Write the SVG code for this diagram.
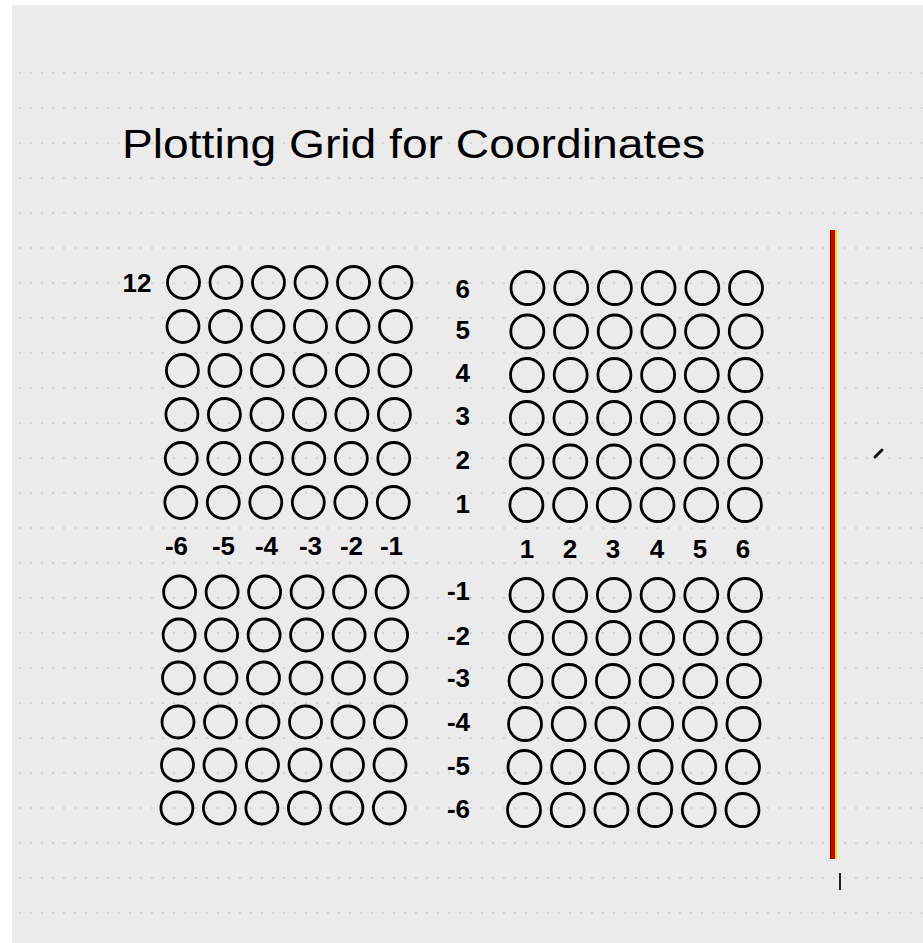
<svg xmlns="http://www.w3.org/2000/svg" xmlns:xlink="http://www.w3.org/1999/xlink" width="923" height="943" viewBox="0 0 923 943">
<style>
.c{fill:none;stroke:#000;stroke-width:2.8}
.n{font-family:"Liberation Sans",Arial,sans-serif;font-weight:bold;font-size:26px;fill:#000}
.t{font-family:"Liberation Sans",Arial,sans-serif;font-size:40px;fill:#000}
</style>
<defs>
<pattern id="dots" patternUnits="userSpaceOnUse" x="36.5" y="38" width="11" height="35">
<circle cx="5.5" cy="35" r="0.8" fill="#b4b4b4"/>
<circle cx="5.5" cy="0" r="0.8" fill="#b4b4b4"/>
</pattern>
<g id="rowL">
<circle class="c" cx="0" cy="0" r="16"/>
<circle class="c" cx="42.5" cy="0" r="16"/>
<circle class="c" cx="85" cy="0" r="16"/>
<circle class="c" cx="127.5" cy="0" r="16"/>
<circle class="c" cx="170" cy="0" r="16"/>
<circle class="c" cx="212.5" cy="0" r="16"/>
</g>
<g id="rowR">
<circle class="c" cx="0" cy="0" r="16.5"/>
<circle class="c" cx="43.7" cy="0" r="16.5"/>
<circle class="c" cx="87.4" cy="0" r="16.5"/>
<circle class="c" cx="131.1" cy="0" r="16.5"/>
<circle class="c" cx="174.8" cy="0" r="16.5"/>
<circle class="c" cx="218.5" cy="0" r="16.5"/>
</g>
</defs>
<rect x="0" y="0" width="923" height="943" fill="#ffffff"/>
<rect x="12" y="5" width="911" height="938" fill="#ebebeb"/>
<rect x="12" y="60" width="911" height="883" fill="url(#dots)"/>

<g id="title">
<text class="t" x="122" y="158" textLength="583" lengthAdjust="spacingAndGlyphs">Plotting Grid for Coordinates</text>
</g>

<g id="left-grid">
<use xlink:href="#rowL" href="#rowL" x="183.5" y="282.5"/>
<use xlink:href="#rowL" href="#rowL" x="183" y="326.5"/>
<use xlink:href="#rowL" href="#rowL" x="182.4" y="370.5"/>
<use xlink:href="#rowL" href="#rowL" x="181.9" y="414.5"/>
<use xlink:href="#rowL" href="#rowL" x="181.3" y="458.5"/>
<use xlink:href="#rowL" href="#rowL" x="180.8" y="502.5"/>
<use xlink:href="#rowL" href="#rowL" x="179.6" y="592"/>
<use xlink:href="#rowL" href="#rowL" x="179.1" y="635"/>
<use xlink:href="#rowL" href="#rowL" x="178.5" y="678"/>
<use xlink:href="#rowL" href="#rowL" x="178" y="722"/>
<use xlink:href="#rowL" href="#rowL" x="177.5" y="765"/>
<use xlink:href="#rowL" href="#rowL" x="176.9" y="808"/>
</g>

<g id="right-grid">
<use xlink:href="#rowR" href="#rowR" x="527.5" y="288"/>
<use xlink:href="#rowR" href="#rowR" x="527.3" y="331.5"/>
<use xlink:href="#rowR" href="#rowR" x="527" y="375"/>
<use xlink:href="#rowR" href="#rowR" x="526.8" y="418"/>
<use xlink:href="#rowR" href="#rowR" x="526.6" y="461.5"/>
<use xlink:href="#rowR" href="#rowR" x="526.4" y="505"/>
<use xlink:href="#rowR" href="#rowR" x="526.5" y="595"/>
<use xlink:href="#rowR" href="#rowR" x="526" y="638"/>
<use xlink:href="#rowR" href="#rowR" x="525.5" y="681"/>
<use xlink:href="#rowR" href="#rowR" x="525" y="724"/>
<use xlink:href="#rowR" href="#rowR" x="524.5" y="767"/>
<use xlink:href="#rowR" href="#rowR" x="524" y="810"/>
</g>

<g id="y-labels">
<text class="n" x="137" y="292" text-anchor="middle">12</text>
<text class="n" x="470" y="298" text-anchor="end">6</text>
<text class="n" x="470" y="339" text-anchor="end">5</text>
<text class="n" x="470" y="382" text-anchor="end">4</text>
<text class="n" x="470" y="425" text-anchor="end">3</text>
<text class="n" x="470" y="469" text-anchor="end">2</text>
<text class="n" x="470" y="513" text-anchor="end">1</text>
<text class="n" x="470" y="600" text-anchor="end">-1</text>
<text class="n" x="470" y="645" text-anchor="end">-2</text>
<text class="n" x="470" y="687" text-anchor="end">-3</text>
<text class="n" x="470" y="731" text-anchor="end">-4</text>
<text class="n" x="470" y="775" text-anchor="end">-5</text>
<text class="n" x="470" y="818" text-anchor="end">-6</text>
</g>

<g id="x-labels">
<text class="n" x="188" y="555" text-anchor="end">-6</text>
<text class="n" x="235" y="555" text-anchor="end">-5</text>
<text class="n" x="278" y="555" text-anchor="end">-4</text>
<text class="n" x="322" y="555" text-anchor="end">-3</text>
<text class="n" x="363" y="555" text-anchor="end">-2</text>
<text class="n" x="403" y="555" text-anchor="end">-1</text>
<text class="n" x="527" y="558" text-anchor="middle">1</text>
<text class="n" x="570" y="558" text-anchor="middle">2</text>
<text class="n" x="613" y="558" text-anchor="middle">3</text>
<text class="n" x="657" y="558" text-anchor="middle">4</text>
<text class="n" x="700" y="558" text-anchor="middle">5</text>
<text class="n" x="743" y="558" text-anchor="middle">6</text>
</g>

<g id="marks">
<rect x="830" y="230" width="5" height="629" fill="#d00000"/>
<rect x="830" y="230" width="1" height="629" fill="#600000"/>
<rect x="835" y="230" width="2" height="629" fill="#f2e600"/>
<line x1="840" y1="873" x2="840" y2="890" stroke="#222" stroke-width="2"/>
<line x1="875" y1="457" x2="882" y2="450" stroke="#111" stroke-width="3" stroke-linecap="round"/>
</g>
</svg>
